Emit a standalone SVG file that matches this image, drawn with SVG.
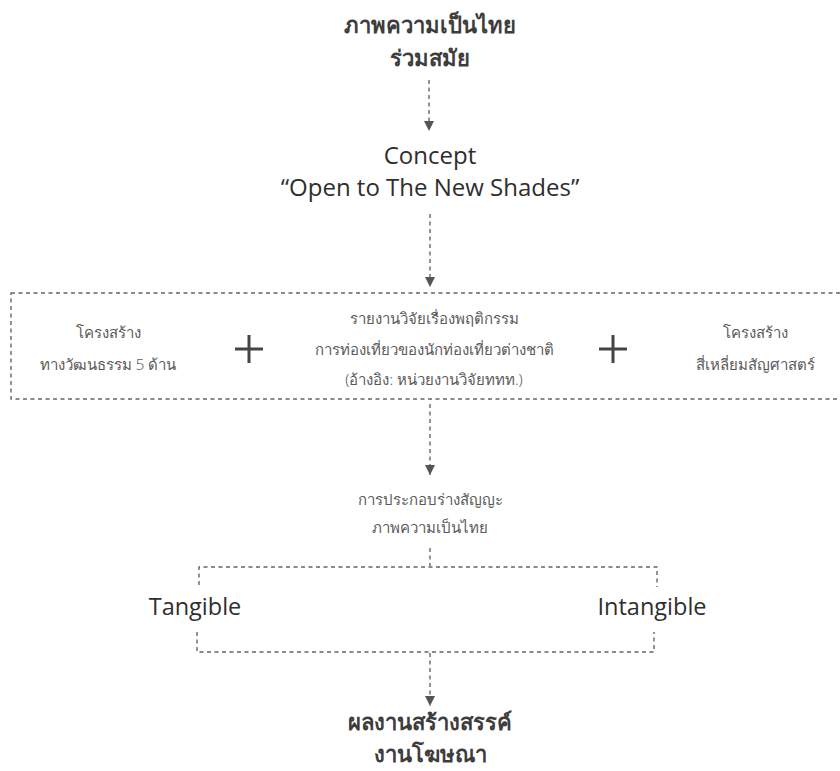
<svg xmlns="http://www.w3.org/2000/svg" width="840" height="771" viewBox="0 0 840 771">
  <style>
    .title { font-family: "Noto Sans", "DejaVu Sans", sans-serif; font-size: 22px; font-weight: 600; fill: #3d3d3d; text-anchor: middle; }
    .en { font-family: "Open Sans", "Noto Sans", sans-serif; font-size: 23.5px; fill: #2e2e2e; text-anchor: middle; }
    .concept { font-size: 24px; }
    .body { font-family: "Noto Sans", "DejaVu Sans", sans-serif; font-size: 15px; font-weight: 300; fill: #5a5a5a; text-anchor: middle; }
    .dash { fill: none; stroke: #666; stroke-width: 1.4; stroke-dasharray: 4 3.5; }
    .plus { stroke: #444; stroke-width: 3; }
  </style>
  <defs>
    <marker id="tri" viewBox="0 0 10 10" refX="10" refY="5" markerWidth="10" markerHeight="10" markerUnits="userSpaceOnUse" orient="auto">
      <path d="M0,0 L10,5 L0,10 Z" fill="#555"/>
    </marker>
  </defs>

  <g id="connectors">
    <line class="dash" x1="429" y1="80" x2="429" y2="131" marker-end="url(#tri)"/>
    <line class="dash" x1="430" y1="214" x2="430" y2="287" marker-end="url(#tri)"/>
    <line class="dash" x1="430" y1="404" x2="430" y2="475" marker-end="url(#tri)"/>
    <line class="dash" x1="430" y1="548" x2="430" y2="566"/>
    <path class="dash" d="M199,585 V567 H657 V587"/>
    <path class="dash" d="M197,632 V652 H654 V632"/>
    <line class="dash" x1="430" y1="653" x2="430" y2="706" marker-end="url(#tri)"/>
  </g>

  <g id="node-title">
    <text class="title" x="430" y="33">ภาพความเป็นไทย</text>
    <text class="title" x="430" y="66">ร่วมสมัย</text>
  </g>

  <g id="node-concept">
    <text class="en concept" x="430" y="164">Concept</text>
    <text class="en concept" x="430" y="196">“Open to The New Shades”</text>
  </g>

  <g id="node-sources">
    <rect class="dash" x="11" y="293" width="840" height="106"/>
    <text class="body" x="108" y="338">โครงสร้าง</text>
    <text class="body" x="108" y="370">ทางวัฒนธรรม 5 ด้าน</text>
    <line class="plus" x1="235" y1="349" x2="263" y2="349"/>
    <line class="plus" x1="249" y1="335" x2="249" y2="363"/>
    <text class="body" x="434" y="324">รายงานวิจัยเรื่องพฤติกรรม</text>
    <text class="body" x="434" y="355">การท่องเที่ยวของนักท่องเที่ยวต่างชาติ</text>
    <text class="body" x="434" y="385">(อ้างอิง: หน่วยงานวิจัยททท.)</text>
    <line class="plus" x1="599" y1="349" x2="627" y2="349"/>
    <line class="plus" x1="613" y1="335" x2="613" y2="363"/>
    <text class="body" x="755" y="338">โครงสร้าง</text>
    <text class="body" x="755" y="370">สี่เหลี่ยมสัญศาสตร์</text>
  </g>

  <g id="node-signs">
    <text class="body" x="430" y="505">การประกอบร่างสัญญะ</text>
    <text class="body" x="430" y="533">ภาพความเป็นไทย</text>
  </g>

  <g id="node-tangible">
    <text class="en" x="195" y="615">Tangible</text>
  </g>

  <g id="node-intangible">
    <text class="en" x="652" y="615">Intangible</text>
  </g>

  <g id="node-output">
    <text class="title" x="430" y="730">ผลงานสร้างสรรค์</text>
    <text class="title" x="430" y="762">งานโฆษณา</text>
  </g>
</svg>
